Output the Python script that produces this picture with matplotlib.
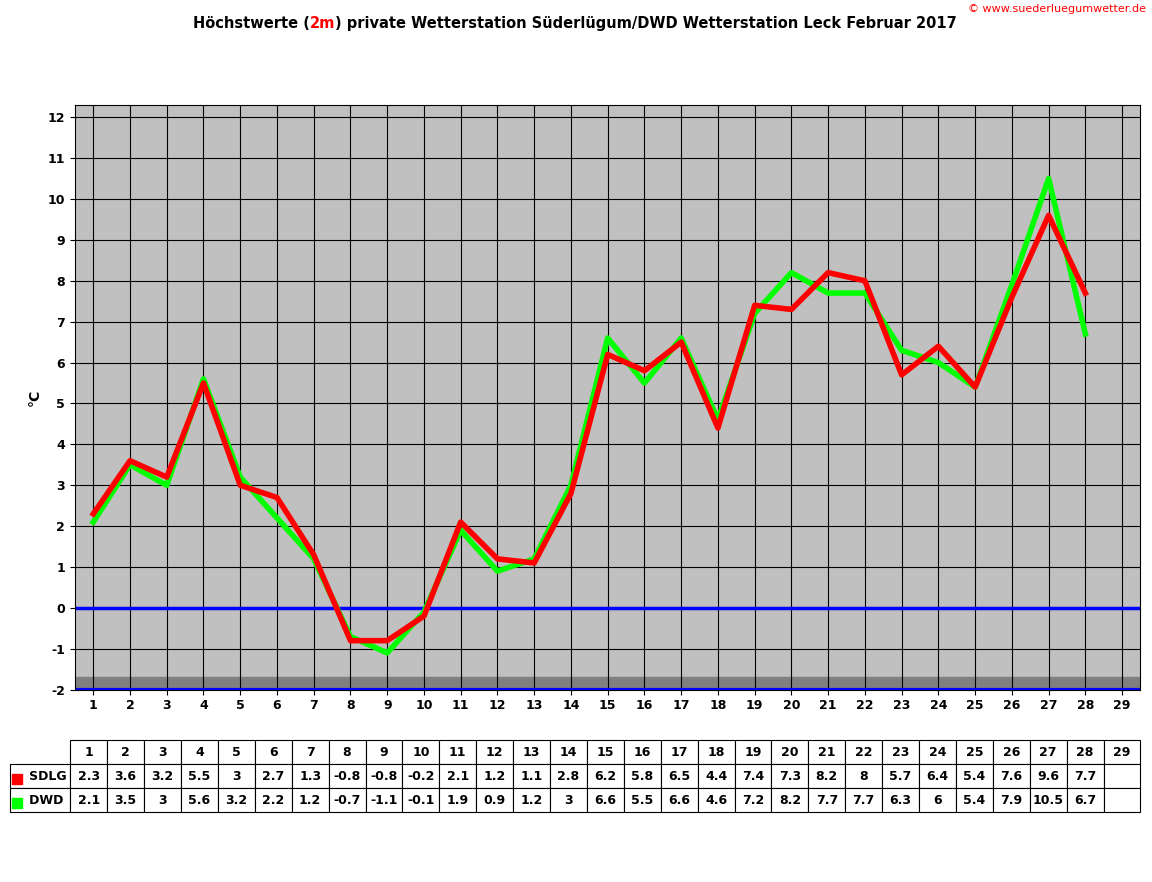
import matplotlib.pyplot as plt

plt.rcParams['axes.unicode_minus'] = False

days = list(range(1, 30))
sdlg = [2.3, 3.6, 3.2, 5.5, 3, 2.7, 1.3, -0.8, -0.8, -0.2, 2.1, 1.2, 1.1, 2.8,
        6.2, 5.8, 6.5, 4.4, 7.4, 7.3, 8.2, 8, 5.7, 6.4, 5.4, 7.6, 9.6, 7.7]
dwd = [2.1, 3.5, 3, 5.6, 3.2, 2.2, 1.2, -0.7, -1.1, -0.1, 1.9, 0.9, 1.2, 3,
       6.6, 5.5, 6.6, 4.6, 7.2, 8.2, 7.7, 7.7, 6.3, 6, 5.4, 7.9, 10.5, 6.7]
yticks = list(range(-2, 13))

fig = plt.figure(figsize=(11.52, 8.82), dpi=100)
ax = fig.add_axes([0.065, 0.218, 0.925, 0.663])
ax.set_facecolor('#c0c0c0')
ax.set_xlim(0.5, 29.5)
ax.set_ylim(-2, 12.3)
ax.set_yticks(yticks)
ax.set_xticks(days)
ax.tick_params(labelsize=9)
for lab in ax.get_xticklabels() + ax.get_yticklabels():
    lab.set_fontweight('bold')
ax.grid(True, color='black', linewidth=0.8)
ax.axhspan(-2, -1.7, color='#808080', zorder=1)
ax.axhline(0, color='blue', linewidth=2.5, zorder=2)
ax.axhline(-2, color='blue', linewidth=3, zorder=2)
ax.plot(days[:len(dwd)], dwd, color='#00ff00', linewidth=4, zorder=3)
ax.plot(days[:len(sdlg)], sdlg, color='red', linewidth=4, zorder=4)
ax.set_ylabel('°C', fontsize=10, fontweight='bold')

# title in three parts
renderer = fig.canvas.get_renderer()
parts = [('Höchstwerte (', 'black'), ('2m', 'red'),
         (') private Wetterstation Süderlügum/DWD Wetterstation Leck Februar 2017', 'black')]
texts = []
for s, c in parts:
    t = fig.text(0, 0, s, fontsize=10.5, fontweight='bold', color=c)
    texts.append(t)
widths = [t.get_window_extent(renderer).width for t in texts]
x = 575 - sum(widths) / 2
for t, w in zip(texts, widths):
    t.set_transform(None)
    t.set_position((x, 882 - 28))
    x += w
fig.text(0.995, 0.995, '© www.suederluegumwetter.de', color='red', fontsize=8,
         ha='right', va='top')

# data table
cells = [[str(v) for v in sdlg] + [''], [str(v) for v in dwd] + ['']]
tab = fig.add_axes([0.061, 0.079, 0.929, 0.082])
tab.axis('off')
tbl = tab.table(cellText=cells, colLabels=[str(d) for d in days],
                rowLabels=['   SDLG', '   DWD'], bbox=[0, 0, 1, 1], cellLoc='center')
tbl.auto_set_font_size(False)
tbl.set_fontsize(9)
for (r, c), cell in tbl.get_celld().items():
    cell.get_text().set_fontweight('bold')
    cell.set_linewidth(0.8)
    if c == -1:
        cell.get_text().set_ha('left')
fig.patches.append(plt.Rectangle((12/1152, 1-784/882), 10/1152, 10/882, color='red', transform=fig.transFigure))
fig.patches.append(plt.Rectangle((12/1152, 1-808/882), 10/1152, 10/882, color='#00ff00', transform=fig.transFigure))

fig.savefig('out.png', dpi=100)
